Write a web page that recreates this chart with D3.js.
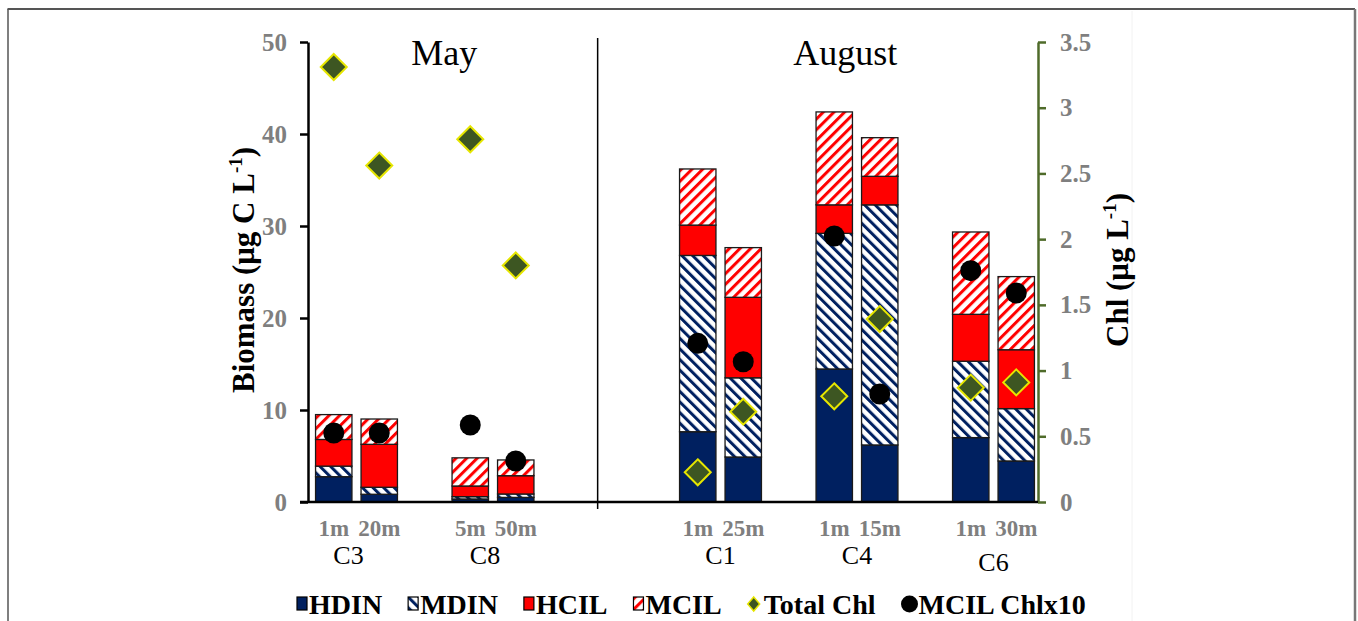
<!DOCTYPE html>
<html><head><meta charset="utf-8">
<script src="https://cdn.jsdelivr.net/npm/d3@7"></script>
<style>body{margin:0;background:#fff;} svg{display:block;}</style>
</head><body><svg id="chart" width="1358" height="621"></svg>
<script>
// ---------- data ----------
const months = ["May", "August"];
const stations = ["C3", "C8", "C1", "C4", "C6"];
const stationMonth = ["May", "May", "August", "August", "August"];
const depths = [["1m", "20m"], ["5m", "50m"], ["1m", "25m"], ["1m", "15m"], ["1m", "30m"]];
const groups = ["HDIN", "MDIN", "HCIL", "MCIL"];
const HDIN = [2.75, 0.84, 0.33, 0.5, 7.64, 4.89, 14.46, 6.2, 7.0, 4.46];
const MDIN = [1.15, 0.76, 0.25, 0.37, 19.16, 8.61, 14.74, 26.1, 8.3, 5.69];
const HCIL = [2.9, 4.67, 1.16, 1.99, 3.3, 8.75, 3.1, 3.1, 5.1, 6.4];
const MCIL = [2.7, 2.75, 3.06, 1.71, 6.1, 5.4, 10.1, 4.2, 8.95, 7.95];
const totalChl = [3.31, 2.56, 2.76, 1.8, 0.226, 0.687, 0.804, 1.392, 0.87, 0.91];
const mcilChl10 = [0.525, 0.525, 0.586, 0.312, 1.207, 1.067, 2.024, 0.822, 1.76, 1.59];
const leftTicks = [0, 10, 20, 30, 40, 50];
const rightTicks = [0, 0.5, 1, 1.5, 2, 2.5, 3, 3.5];
const legendLabels = ["HDIN", "MDIN", "HCIL", "MCIL", "Total Chl", "MCIL Chlx10"];

// ---------- styles ----------
const NAVY = "#002060", RED = "#ff0000", GREEN_AX = "#4f6b2a", DIA_FILL = "#3d5622", DIA_STROKE = "#e6e600";
const SERIF = "'Liberation Serif','Times New Roman',serif";
const GRAY = "#7f7f7f";

const svg = d3.select("#chart");
const defs = svg.append("defs");
function stripe(id, color, angle) {
  const p = defs.append("pattern").attr("id", id).attr("patternUnits", "userSpaceOnUse")
    .attr("width", 7.5).attr("height", 7.5).attr("patternTransform", `rotate(${angle})`);
  p.append("rect").attr("width", 7.5).attr("height", 7.5).attr("fill", "#fff");
  p.append("rect").attr("width", 3).attr("height", 7.5).attr("fill", color);
}
stripe("pMDIN", NAVY, -45);
stripe("pMCIL", RED, 45);
const fills = { HDIN: NAVY, MDIN: "url(#pMDIN)", HCIL: RED, MCIL: "url(#pMCIL)" };

// frame
svg.append("line").attr("x1", 7.5).attr("x2", 1355).attr("y1", 9).attr("y2", 9).attr("stroke", "#555").attr("stroke-width", 2);
svg.append("line").attr("x1", 8).attr("x2", 8).attr("y1", 9).attr("y2", 621).attr("stroke", "#555").attr("stroke-width", 1.5);
svg.append("line").attr("x1", 1355).attr("x2", 1355).attr("y1", 9).attr("y2", 621).attr("stroke", "#777").attr("stroke-width", 2.5);
svg.append("line").attr("x1", 1132).attr("x2", 1132).attr("y1", 11).attr("y2", 621).attr("stroke", "#f2f2f2").attr("stroke-width", 1);

// ---------- samples ----------
const samples = [];
stations.forEach((s, si) => {
  depths[si].forEach((d, j) => {
    const k = samples.length;
    samples.push({
      station: s, depth: d, month: stationMonth[si],
      slot: si * 3 + j + (stationMonth[si] === "August" ? 2 : 0),
      HDIN: HDIN[k], MDIN: MDIN[k], HCIL: HCIL[k], MCIL: MCIL[k],
      chl: totalChl[k], mchl: mcilChl10[k]
    });
  });
});

const x = d3.scaleBand().domain(d3.range(16)).range([311, 1039]).paddingInner(0.2).paddingOuter(0.1);
const y = d3.scaleLinear().domain([0, 50]).range([502, 42]);
const y2 = d3.scaleLinear().domain([0, 3.5]).range([502, 42]);

// bars
const stack = d3.stack().keys(groups)(samples);
svg.append("g").selectAll("g").data(stack).join("g")
  .attr("fill", d => fills[d.key])
  .selectAll("rect").data(d => d).join("rect")
  .attr("x", d => x(d.data.slot))
  .attr("width", x.bandwidth())
  .attr("y", d => y(d[1]))
  .attr("height", d => y(d[0]) - y(d[1]))
  .attr("stroke", "#1a1a1a").attr("stroke-width", 1.3);

// axes
const gL = svg.append("g").attr("transform", "translate(308,0)")
  .call(d3.axisLeft(y).tickValues(leftTicks).tickSize(8).tickSizeOuter(0).tickPadding(13));
gL.select(".domain").attr("stroke", "#000").attr("stroke-width", 2.5);
gL.selectAll(".tick line").attr("stroke", "#000").attr("stroke-width", 2.5);
gL.selectAll(".tick text").attr("font-family", SERIF).attr("font-weight", "bold").attr("font-size", 25).attr("fill", GRAY);

const gR = svg.append("g").attr("transform", "translate(1038,0)")
  .call(d3.axisRight(y2).tickValues(rightTicks).tickFormat(d3.format("~g")).tickSize(8).tickSizeOuter(0).tickPadding(14));
gR.select(".domain").attr("stroke", GREEN_AX).attr("stroke-width", 2.5);
gR.selectAll(".tick line").attr("stroke", GREEN_AX).attr("stroke-width", 2.5);
gR.selectAll(".tick text").attr("font-family", SERIF).attr("font-weight", "bold").attr("font-size", 25).attr("fill", GRAY);

// baseline
svg.append("line").attr("x1", 300).attr("x2", 1038).attr("y1", y(0)).attr("y2", y(0)).attr("stroke", "#000").attr("stroke-width", 2.5);

// month divider
const divX = x(6) + x.bandwidth() * 0.25;
svg.append("line").attr("x1", divX).attr("x2", divX).attr("y1", 38).attr("y2", 509).attr("stroke", "#000").attr("stroke-width", 1.5);

// month titles
const monthCenter = m => m === "May" ? (x.range()[0] + divX) / 2 - 10 : (divX + x.range()[1]) / 2 + 27;
svg.append("g").selectAll("text").data(months).join("text")
  .attr("x", d => monthCenter(d)).attr("y", 65).attr("text-anchor", "middle")
  .attr("font-family", SERIF).attr("font-size", 36).attr("fill", "#000").text(d => d);

// markers
svg.append("g").selectAll("path").data(samples).join("path")
  .attr("transform", d => `translate(${x(d.slot) + x.bandwidth() / 2},${y2(d.chl)})`)
  .attr("d", "M0,-13L13,0L0,13L-13,0Z")
  .attr("fill", DIA_FILL).attr("stroke", DIA_STROKE).attr("stroke-width", 2);
svg.append("g").selectAll("circle").data(samples).join("circle")
  .attr("cx", d => x(d.slot) + x.bandwidth() / 2).attr("cy", d => y2(d.mchl)).attr("r", 10.5).attr("fill", "#000");

// x labels
svg.append("g").selectAll("text").data(samples).join("text")
  .attr("x", d => x(d.slot) + x.bandwidth() / 2).attr("y", 536).attr("text-anchor", "middle")
  .attr("font-family", SERIF).attr("font-weight", "bold").attr("font-size", 23).attr("fill", GRAY).text(d => d.depth);
svg.append("g").selectAll("text").data(stations).join("text")
  .attr("x", (d, i) => {
    const sl = samples.filter(s => s.station === d).map(s => s.slot);
    return (x(sl[0]) + x(sl[1]) + x.bandwidth()) / 2 - (i < 2 ? 8 : 0);
  })
  .attr("y", (d, i) => i === 4 ? 571 : 564).attr("text-anchor", "middle")
  .attr("font-family", SERIF).attr("font-size", 26).attr("fill", "#000").text(d => d);

// axis titles
const tl = svg.append("text").attr("transform", "translate(254,270) rotate(-90)").attr("text-anchor", "middle")
  .attr("font-family", SERIF).attr("font-weight", "bold").attr("font-size", 31).attr("fill", "#000");
tl.append("tspan").text("Biomass (μg C L");
tl.append("tspan").attr("font-size", 19).attr("dy", -12).text("-1");
tl.append("tspan").attr("dy", 12).text(")");
const tr = svg.append("text").attr("transform", "translate(1128,270) rotate(-90)").attr("text-anchor", "middle")
  .attr("font-family", SERIF).attr("font-weight", "bold").attr("font-size", 31).attr("fill", "#000");
tr.append("tspan").text("Chl (μg L");
tr.append("tspan").attr("font-size", 19).attr("dy", -12).text("-1");
tr.append("tspan").attr("dy", 12).text(")");

// legend
const lg = svg.append("g");
let lx = 297;
const ly = 604;
legendLabels.forEach((lab, i) => {
  if (i < 4) {
    lg.append("rect").attr("x", lx).attr("y", ly - 7).attr("width", 10).attr("height", 13)
      .attr("fill", fills[groups[i]]).attr("stroke", "#000").attr("stroke-width", 1.2);
    lx += 12;
  } else if (i === 4) {
    lg.append("path").attr("transform", `translate(${lx + 6},${ly})`).attr("d", "M0,-7L6,0L0,7L-6,0Z")
      .attr("fill", DIA_FILL).attr("stroke", DIA_STROKE).attr("stroke-width", 1.5);
    lx += 16;
  } else {
    lg.append("circle").attr("cx", lx + 8).attr("cy", ly).attr("r", 8.5).attr("fill", "#000");
    lx += 17;
  }
  const t = lg.append("text").attr("x", lx).attr("y", ly + 10).attr("font-family", SERIF).attr("font-weight", "bold")
    .attr("font-size", 28).attr("fill", "#000").text(lab);
  lx += t.node().getComputedTextLength() + 26;
});
</script></body></html>
